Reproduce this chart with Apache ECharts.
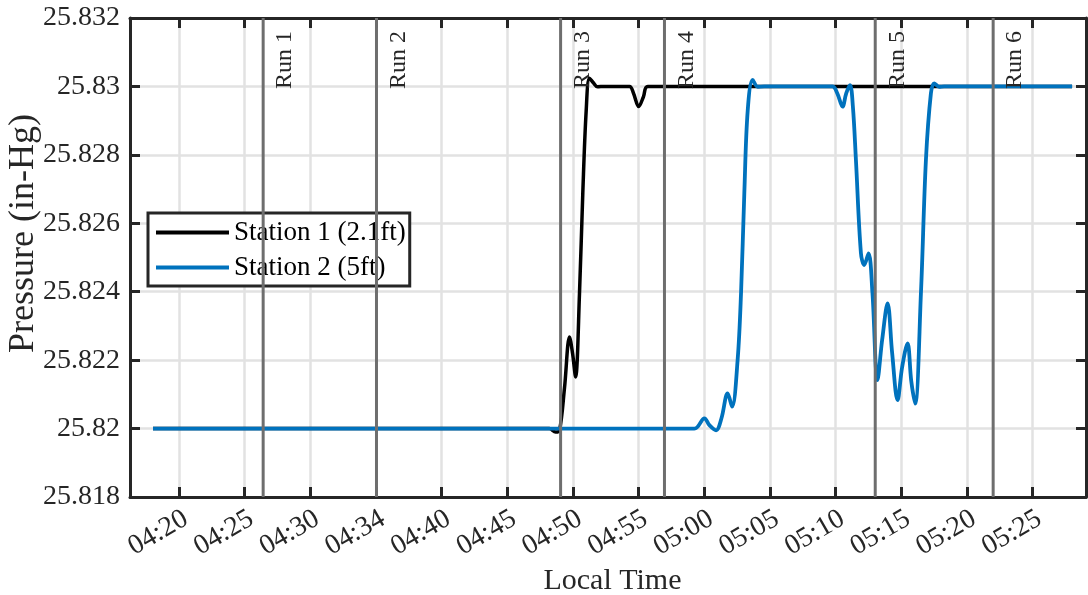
<!DOCTYPE html>
<html><head><meta charset="utf-8">
<script src="https://cdn.jsdelivr.net/npm/echarts@6/dist/echarts.min.js"></script>
<style>html,body{margin:0;padding:0;background:#fff}#c{width:1088px;height:595px}</style>
</head><body><div id="c"></div>
<script>
// Times are minutes after midnight (local time)
const xTickValues = [260, 265, 270, 275, 280, 285, 290, 295, 300, 305, 310, 315, 320, 325];
const xTickLabels = ['04:20', '04:25', '04:30', '04:34', '04:40', '04:45', '04:50', '04:55', '05:00', '05:05', '05:10', '05:15', '05:20', '05:25'];

const s1Time = [258.02, 288.2, 288.68, 288.98, 289.36, 289.74, 289.97, 290.2, 290.5, 290.75, 291.01, 291.26, 291.57, 291.87, 292.4, 294.31, 294.61, 295.01, 295.37, 295.7, 328.01];
const s1Pressure = [25.82, 25.82, 25.8199, 25.81995, 25.8212, 25.82268, 25.8222, 25.82151, 25.82396, 25.82687, 25.8293, 25.83024, 25.8301, 25.82999, 25.83, 25.83, 25.8298, 25.82941, 25.8297, 25.83, 25.83];

const s2Time = [258.02, 299.25, 300.01, 300.39, 300.9, 301.31, 301.78, 302.12, 302.54, 302.8, 303.05, 303.31, 303.69, 304.07, 304.58, 309.75, 310.13, 310.53, 310.81, 311.1, 311.32, 311.55, 311.93, 312.18, 312.51, 312.81, 313.19, 313.55, 313.96, 314.31, 314.72, 315.07, 315.48, 315.76, 316.06, 316.5, 316.88, 317.26, 317.51, 317.89, 318.27, 328.01];
const s2Pressure = [25.82, 25.82, 25.8203, 25.8201, 25.81995, 25.8203, 25.82103, 25.82064, 25.822, 25.82395, 25.82687, 25.8293, 25.83019, 25.82999, 25.83, 25.83, 25.8298, 25.82941, 25.8298, 25.83004, 25.8294, 25.82785, 25.82513, 25.82478, 25.82512, 25.82395, 25.82142, 25.8226, 25.82366, 25.8222, 25.82083, 25.8218, 25.82249, 25.8214, 25.82073, 25.82395, 25.82785, 25.8298, 25.83009, 25.82999, 25.83, 25.83];

const runTimes = [266.41, 275.04, 289.06, 296.97, 313.02, 322.0];
const runLabels = ['Run 1', 'Run 2', 'Run 3', 'Run 4', 'Run 5', 'Run 6'];

const seriesNames = ['Station 1 (2.1ft)', 'Station 2 (5ft)'];

const X_MIN = 256.27, X_MAX = 329.07;
const Y_MIN = 25.818, Y_MAX = 25.832;
const FONT = '"Liberation Serif", "Times New Roman", serif';
const AX = '#262626';

function xLabel(v) {
  for (let i = 0; i < xTickValues.length; i++) if (Math.abs(v - xTickValues[i]) < 0.01) return xTickLabels[i];
  return '';
}
function yLabel(v) { return String(+v.toFixed(3)); }

const chart = echarts.init(document.getElementById('c'));
const tickStyle = { show: true, inside: true, length: 10, lineStyle: { color: AX, width: 3 } };
chart.setOption({
  animation: false,
  backgroundColor: '#fff',
  grid: { left: 130, right: 2, top: 18, bottom: 98, containLabel: false, outerBoundsMode: 'none' },
  legend: {
    orient: 'vertical', left: 148, top: 213,
    data: seriesNames,
    icon: 'rect', itemWidth: 73, itemHeight: 4, itemGap: 8,
    padding: [6, 4, 5, 8],
    borderColor: AX, borderWidth: 3, backgroundColor: '#fff',
    textStyle: { fontFamily: FONT, fontSize: 27, color: '#000' }
  },
  xAxis: [{
    type: 'value', min: X_MIN, max: X_MAX, position: 'bottom',
    name: 'Local Time', nameLocation: 'middle', nameGap: 69, nameMoveOverlap: false,
    nameTextStyle: { fontFamily: FONT, fontSize: 30, color: AX, padding: [0, 0, 0, 9] },
    axisLine: { show: true, onZero: false, lineStyle: { color: AX, width: 3 } },
    axisTick: Object.assign({ customValues: xTickValues }, tickStyle),
    axisLabel: { customValues: xTickValues, formatter: xLabel, rotate: 30, margin: 24,
      fontFamily: FONT, fontSize: 28, color: AX, padding: [0, -8, 0, 0] },
    splitLine: { show: true, lineStyle: { color: '#e2e2e2', width: 2.5 } }
  }, {
    type: 'value', min: X_MIN, max: X_MAX, position: 'top',
    axisLine: { show: true, onZero: false, lineStyle: { color: AX, width: 3 } },
    axisTick: Object.assign({ customValues: xTickValues }, tickStyle),
    axisLabel: { show: false }, splitLine: { show: false }
  }],
  yAxis: [{
    type: 'value', min: Y_MIN, max: Y_MAX, interval: 0.002, position: 'left',
    name: 'Pressure (in-Hg)', nameLocation: 'middle', nameGap: 88, nameMoveOverlap: false,
    nameTextStyle: { fontFamily: FONT, fontSize: 36, color: AX, padding: [0, 0, 0, 48] },
    axisLine: { show: true, onZero: false, lineStyle: { color: AX, width: 3 } },
    axisTick: tickStyle,
    axisLabel: { formatter: yLabel, margin: 10, fontFamily: FONT, fontSize: 28, color: AX },
    splitLine: { show: true, lineStyle: { color: '#e2e2e2', width: 2.5 } }
  }, {
    type: 'value', min: Y_MIN, max: Y_MAX, interval: 0.002, position: 'right',
    axisLine: { show: true, onZero: false, lineStyle: { color: AX, width: 3 } },
    axisTick: tickStyle,
    axisLabel: { show: false }, splitLine: { show: false }
  }],
  series: [{
    name: seriesNames[0], type: 'line', smooth: 0.35, showSymbol: false, symbol: 'none',
    data: s1Time.map((t, i) => [t, s1Pressure[i]]),
    lineStyle: { color: '#000000', width: 3.5 }, itemStyle: { color: '#000000' }, z: 3
  }, {
    name: seriesNames[1], type: 'line', smooth: 0.35, showSymbol: false, symbol: 'none',
    data: s2Time.map((t, i) => [t, s2Pressure[i]]),
    lineStyle: { color: '#0072BD', width: 3.8 }, itemStyle: { color: '#0072BD' }, z: 4
  }, {
    type: 'custom', z: 5, silent: true,
    data: runTimes.map(t => [t, Y_MAX]),
    renderItem: function (params, api) {
      const x = api.value(0);
      const top = api.coord([x, Y_MAX]);
      const bot = api.coord([x, Y_MIN]);
      return {
        type: 'group',
        children: [{
          type: 'line',
          shape: { x1: top[0], y1: top[1], x2: bot[0], y2: bot[1] },
          style: { stroke: '#6e6e6e', lineWidth: 3 }
        }, {
          type: 'text', x: top[0] + 22, y: top[1] + 13, rotation: Math.PI / 2,
          style: { text: runLabels[params.dataIndex], font: '24px ' + FONT, fill: AX,
            align: 'right', verticalAlign: 'middle' }
        }]
      };
    }
  }]
});
</script></body></html>
